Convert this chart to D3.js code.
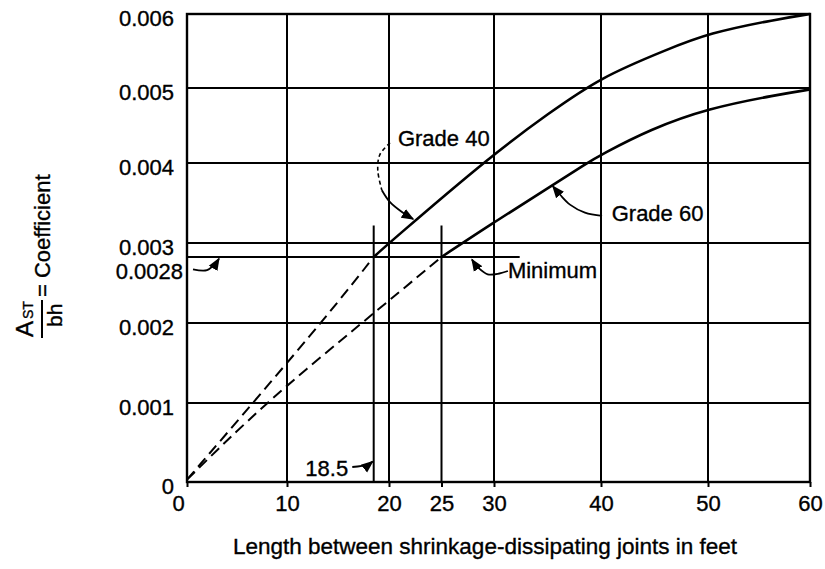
<!DOCTYPE html>
<html><head><meta charset="utf-8">
<script src="https://cdn.jsdelivr.net/npm/d3@7/dist/d3.min.js"></script>
<style>
body{margin:0;background:#fff}
svg{display:block}
text{font-family:"Liberation Sans",Arial,Helvetica,sans-serif;fill:#000;stroke:#000;stroke-width:0.35px}
</style>
</head><body>
<svg id="c" width="825" height="569"></svg>
<script>
// ---------------- data ----------------
const xTicks = [0, 10, 20, 25, 30, 40, 50, 60];
const yTicks = [0, 0.001, 0.002, 0.003, 0.004, 0.005, 0.006];
const xGrid = [10, 20, 30, 40, 50];
const yGrid = [0.001, 0.002, 0.003, 0.004, 0.005];
const minimumCoef = 0.0028;
const minimumLineEnd = 32.4;
const markerLengths = [18.5, 25];
const markerTop = 0.00322;

// Grade 40 (solid part above minimum, dashed part below)
const grade40Solid = [[18.5,0.0028],[20,0.003],[30,0.00413],[35,0.00465],[40,0.00515],[46.2,0.00552],[50,0.00574],[56.8,0.00593],[60,0.006]];
const grade40Dashed = [[0,0.00003],[13.4,0.002],[18.5,0.0028]];
// Grade 60
const grade60Solid = [[25,0.0028],[30,0.00326],[35,0.00368],[38.7,0.004],[40,0.00411],[44.6,0.00445],[50,0.00473],[56.8,0.00491],[60,0.00498]];
const grade60Dashed = [[0,0.00003],[7.8,0.001],[17.35,0.002],[25,0.0028]];

// annotation anchors (data units)
const grade40LeaderDashed = [[20.1,0.00427],[19.1,0.00411],[18.9,0.00391],[19.3,0.00366]];
const grade40LeaderSolid = [[19.3,0.00366],[20.1,0.00351],[21.2,0.00339],[22.3,0.0033]];
const grade60Leader = [[40.1,0.00334],[38.5,0.00338],[37.1,0.00348],[36.2,0.0036],[35.5,0.00371]];
const minimumLeader = [[31.3,0.00263],[30.5,0.0026],[29.4,0.00259],[28.5,0.00267],[27.9,0.00277]];
const coefLeader = [[0.6,0.00265],[2.0,0.00264],[2.9,0.00273],[3.2,0.00278]];
const lengthLeader = [[16.4,0.00019],[17.9,0.00022],[18.4,0.00026]];
const labels = [
  {text:"Grade 40", x:20.85, y:0.00433, anchor:"start"},
  {text:"Grade 60", x:41.0, y:0.00338, anchor:"start"},
  {text:"Minimum", x:31.3, y:0.00264, anchor:"start"},
  {text:"18.5", x:16.0, y:0.00018, anchor:"end"}
];
const xTitle = "Length between shrinkage-dissipating joints in feet";

// ---------------- layout ----------------
const svg = d3.select("#c");
const x = d3.scaleLinear().domain([0,10,20,30,40,50,60]).range([187,287,389,494,601,708,810]);
const y = d3.scaleLinear().domain([0,0.001,0.002,0.0028,0.003,0.004,0.005,0.006]).range([482,403,323,257,243,163,88,14]);
const X0 = x(0), X1 = x(60), Y0 = y(0), Y1 = y(0.006);

svg.append("defs").append("marker")
  .attr("id","arr").attr("viewBox","0 0 10 10").attr("refX",9).attr("refY",5)
  .attr("markerWidth",7).attr("markerHeight",7).attr("orient","auto")
  .append("path").attr("d","M0,1 L10,5 L0,9 Z").attr("fill","#000");

const g = svg.append("g");

// grid
g.selectAll(".vg").data(xGrid).join("line")
  .attr("x1",d=>x(d)).attr("x2",d=>x(d)).attr("y1",Y0).attr("y2",Y1)
  .attr("stroke","#000").attr("stroke-width",2);
g.selectAll(".hg").data(yGrid).join("line")
  .attr("x1",X0).attr("x2",X1).attr("y1",d=>y(d)).attr("y2",d=>y(d))
  .attr("stroke","#000").attr("stroke-width",2);
g.append("rect").attr("x",X0).attr("y",Y1).attr("width",X1-X0).attr("height",Y0-Y1)
  .attr("fill","none").attr("stroke","#000").attr("stroke-width",2.4);

// minimum line and markers
g.append("line").attr("x1",X0).attr("x2",x(minimumLineEnd))
  .attr("y1",y(minimumCoef)).attr("y2",y(minimumCoef))
  .attr("stroke","#000").attr("stroke-width",2);
g.selectAll(".mk").data(markerLengths).join("line")
  .attr("x1",d=>x(d)).attr("x2",d=>x(d)).attr("y1",Y0).attr("y2",y(markerTop))
  .attr("stroke","#000").attr("stroke-width",2);

// axes
const xAxis = g.append("g").attr("transform",`translate(0,${Y0})`)
  .call(d3.axisBottom(x).tickValues(xTicks).tickSize(5).tickPadding(8).tickFormat(d3.format("d")));
xAxis.select(".domain").remove();
xAxis.selectAll("line").attr("stroke-width",2);
xAxis.selectAll("text").attr("font-size",22).attr("font-family",'"Liberation Sans",Arial,sans-serif')
  .attr("dx",d=>d===0?-9:0);

const yAxis = g.append("g").attr("transform",`translate(${X0},0)`)
  .call(d3.axisLeft(y).tickValues(yTicks).tickSize(0).tickPadding(13)
    .tickFormat(d=>d===0?"0":d3.format(".3f")(d)));
yAxis.select(".domain").remove();
yAxis.selectAll("text").attr("font-size",22).attr("font-family",'"Liberation Sans",Arial,sans-serif')
  .attr("dy","0.5em");
g.append("text").attr("x",X0-4).attr("y",y(minimumCoef)).attr("dy","1.02em")
  .attr("text-anchor","end").attr("font-size",22).text(d3.format(".4f")(minimumCoef));

// curves
const smooth = d3.line().x(d=>x(d[0])).y(d=>y(d[1])).curve(d3.curveBasis);
[grade40Solid, grade60Solid].forEach(s=>{
  g.append("path").attr("d",smooth(s)).attr("fill","none").attr("stroke","#000").attr("stroke-width",2.6);
});
[grade40Dashed, grade60Dashed].forEach(s=>{
  g.append("path").attr("d",smooth(s)).attr("fill","none").attr("stroke","#000")
   .attr("stroke-width",2).attr("stroke-dasharray","11,6");
});

// leaders
const lead = d3.line().x(d=>x(d[0])).y(d=>y(d[1])).curve(d3.curveCatmullRom);
g.append("path").attr("d",lead(grade40LeaderDashed)).attr("fill","none").attr("stroke","#000")
  .attr("stroke-width",1.6).attr("stroke-dasharray","4,3");
[grade40LeaderSolid, grade60Leader, minimumLeader, coefLeader, lengthLeader].forEach(s=>{
  g.append("path").attr("d",lead(s)).attr("fill","none").attr("stroke","#000")
   .attr("stroke-width",1.8).attr("marker-end","url(#arr)");
});

// labels
g.selectAll(".lab").data(labels).join("text")
  .attr("x",d=>x(d.x)).attr("y",d=>y(d.y)).attr("dy","0.36em")
  .attr("text-anchor",d=>d.anchor).attr("font-size",22).text(d=>d.text);

// x title
svg.append("text").attr("x",485).attr("y",554).attr("text-anchor","middle")
  .attr("font-size",22.5).text(xTitle);

// y title (rotated fraction)
const yt = svg.append("g").attr("transform","translate(42,0) rotate(-90)");
yt.append("text").attr("x",-337).attr("y",-9).attr("font-size",24).text("A");
yt.append("text").attr("x",-319).attr("y",-9).attr("font-size",14).text("ST");
yt.append("line").attr("x1",-338).attr("x2",-300).attr("y1",0).attr("y2",0)
  .attr("stroke","#000").attr("stroke-width",2);
yt.append("text").attr("x",-327).attr("y",20).attr("font-size",21).text("bh");
yt.append("text").attr("x",-297).attr("y",8).attr("font-size",22).text("= Coefficient");
</script>
</body></html>
